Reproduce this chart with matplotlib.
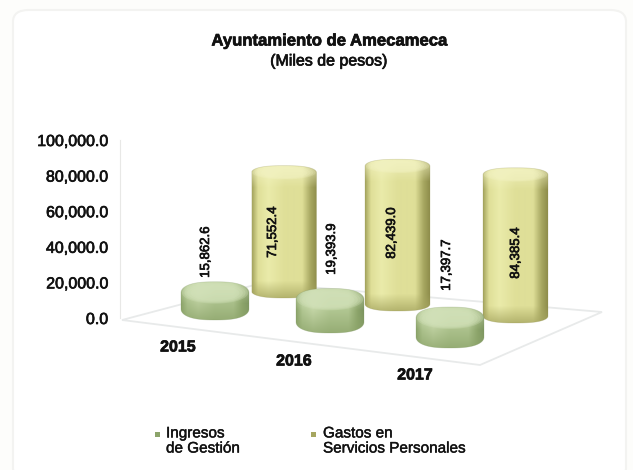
import numpy as np
import matplotlib
matplotlib.use('Agg')
import matplotlib.pyplot as plt
import matplotlib.patheffects as pe
from matplotlib.patches import PathPatch, FancyBboxPatch, Polygon, Rectangle
from matplotlib.path import Path

plt.rcParams['font.family'] = ['Liberation Sans', 'DejaVu Sans']

years = ['2015', '2016', '2017']
ingresos = [15862.6, 19393.9, 17397.7]
gastos = [71552.4, 82439.0, 84385.4]
y_ticks = [0, 20000, 40000, 60000, 80000, 100000]
title = 'Ayuntamiento de Amecameca'
subtitle = '(Miles de pesos)'
legend_names = ['Ingresos\nde Gestión', 'Gastos en\nServicios Personales']

W, H = 633, 470
Y0_PX, Y100_PX = 318, 140  # pixel rows of 0 and 100,000 on the axis
PER_PX = 100000 / (Y0_PX - Y100_PX)

def val(py):
    return (Y0_PX - py) * PER_PX

# layout of the fake 3d scene, in pixels
green_x = [215, 330, 450]
green_bottom = [320, 333, 348]
yellow_x = [284, 397.5, 515.5]
yellow_bottom = [298, 311, 323]
green_label_xy = [(206, 252), (332, 249), (447, 265)]
yellow_label_xy = [(273, 232), (392, 233), (516, 253)]
year_xy = [(178, 347), (294, 361), (415, 375)]

GREEN = {'edge': '#8ca46a', 'mid': '#b5ca96', 'light': '#c9daac', 'top': '#d3e2ba', 'dark': '#7a925e'}
YELLOW = {'edge': '#a6a660', 'mid': '#dfdf98', 'light': '#eaebaa', 'top': '#f5f5c6', 'dark': '#8f8e4c'}

heavy = [pe.withStroke(linewidth=0.5, foreground='#111111')]


def rgb(c):
    return np.array(matplotlib.colors.to_rgb(c))


def ellipse_path(cx, cy, rx, ry):
    t = np.linspace(0, 2 * np.pi, 80)
    return Path(np.column_stack([cx + rx * np.cos(t), cy + ry * np.sin(t)]))


def arc(cx, cy, rx, ry, t):
    # slightly squarish arc so the shoulders look rounded off
    c, s = np.cos(t), np.sin(t)
    return np.column_stack([cx + rx * np.sign(c) * np.abs(c) ** 0.75, cy + ry * np.sign(s) * np.abs(s) ** 0.95])


def cylinder(ax, cx, bottom_px, value, rx, ry_px, pal, extra=7, cap_alpha=0.25):
    ry = ry_px * PER_PX
    y_low = val(bottom_px)
    y_high = y_low + value + extra * PER_PX

    low = arc(cx, y_low + ry, rx, ry, np.linspace(np.pi, 2 * np.pi, 60))
    high = arc(cx, y_high - ry, rx, ry, np.linspace(0, np.pi, 60))
    outline = Path(np.vstack([low, high, low[:1]]))

    # sideways shading
    u = np.linspace(-1, 1, 90)
    stops = [-1, -0.82, -0.5, 0, 0.55, 0.82, 1]
    cols = [pal['edge'], pal['mid'], pal['light'], pal['mid'], pal['mid'], pal['edge'], pal['dark']]
    grad = np.stack([np.interp(u, stops, [rgb(c)[k] for c in cols]) for k in range(3)], axis=1)

    # up and down shading, counted in pixels from both ends
    height_px = (y_high - y_low) / PER_PX
    m = int(height_px) + 1
    img = np.repeat(grad[None, :, :], m, axis=0)
    from_bottom = np.arange(m)[:, None, None]
    from_top = (m - 1 - from_bottom)
    w_top = np.clip(1 - from_top / 22, 0, 1) * 0.7
    w_foot = np.clip(1 - from_bottom / (2.4 * ry_px), 0, 1) * 0.75
    img = img * (1 - w_top) + rgb(pal['top']) * w_top
    img = img * (1 - w_foot) + rgb(pal['edge']) * w_foot

    body = PathPatch(outline, transform=ax.transData, fc='none', ec='none')
    ax.add_patch(body)
    im = ax.imshow(img, extent=[cx - rx, cx + rx, y_low, y_high], origin='lower',
                   aspect='auto', interpolation='bilinear', zorder=bottom_px)
    im.set_clip_path(body)
    im.set_clip_box(ax.figure.bbox)
    body.set_clip_on(False)

    # soft top cap, a few stacked ellipses
    for f in [0.97, 0.9, 0.82, 0.72]:
        cap = ellipse_path(cx, y_high - ry * 1.02, rx * f, ry * f)
        ax.add_patch(PathPatch(cap, fc=pal['top'], ec='none', alpha=cap_alpha,
                               zorder=bottom_px + 0.1, clip_on=False))
    ax.add_patch(PathPatch(outline, fc='none', ec=pal['dark'], lw=0.5, alpha=0.3,
                           zorder=bottom_px + 0.2, clip_on=False))


fig = plt.figure(figsize=(W / 100, H / 100), dpi=100, facecolor='#fdfdfb')

# rounded frame of the chart area
fig.add_artist(FancyBboxPatch((13 / W, -0.02), 613 / W, 460 / H + 0.02,
                              boxstyle='round,pad=0,rounding_size=0.025', transform=fig.transFigure,
                              fc='#ffffff', ec='#f3f3f1', lw=1.5, zorder=-1))

ax = fig.add_axes([120 / W, (H - Y0_PX) / H, (620 - 120) / W, (Y0_PX - Y100_PX) / H])
ax.patch.set_alpha(0)
ax.set_autoscale_on(False)
ax.set_xlim(120, 620)
ax.set_ylim(0, 100000)
for s in ['top', 'right', 'bottom']:
    ax.spines[s].set_visible(False)
ax.spines['left'].set_color('#e8e8e6')
ax.set_xticks([])
ax.set_yticks(y_ticks)
ax.set_yticklabels([f'{v:,.1f}' for v in y_ticks], fontsize=11.5, color='#111111', path_effects=heavy)
ax.tick_params(axis='y', length=0, pad=8.5)

# floor of the scene
ax.add_patch(Polygon([(122, val(320)), (262, val(283)), (602, val(312)), (480, val(365))],
                     closed=True, fc='none', ec='#e8eaea', lw=1.3, zorder=1, clip_on=False))

for i in range(3):
    cylinder(ax, green_x[i], green_bottom[i], ingresos[i], 34, 11, GREEN, extra=10, cap_alpha=0.3)
    cylinder(ax, yellow_x[i], yellow_bottom[i], gastos[i], 32.5, 7, YELLOW, extra=5, cap_alpha=0.2)
    gx, gy = green_label_xy[i]
    ax.text(gx, val(gy), f'{ingresos[i]:,.1f}', rotation=90, ha='center', va='center',
            fontsize=9.5, color='#111111', zorder=500, clip_on=False, path_effects=heavy)
    yx, yy = yellow_label_xy[i]
    ax.text(yx, val(yy), f'{gastos[i]:,.1f}', rotation=90, ha='center', va='center',
            fontsize=9.5, color='#111111', zorder=500, clip_on=False, path_effects=heavy)
    tx, ty = year_xy[i]
    ax.text(tx, val(ty), years[i], ha='center', va='center', fontsize=11.5,
            fontweight='bold', color='#111111', zorder=500, clip_on=False, path_effects=heavy)

ax.set_xlim(120, 620)
ax.set_ylim(0, 100000)

fig.text(329 / W, 1 - 41 / H, title, ha='center', va='center', fontsize=12, fontweight='bold', color='#111111',
         path_effects=heavy)
fig.text(329 / W, 1 - 61 / H, subtitle, ha='center', va='center', fontsize=11.5, color='#111111', path_effects=heavy)

# legend, made by hand
for mx, tx, name, c in [(157, 166, legend_names[0], GREEN['edge']), (313, 323, legend_names[1], YELLOW['edge'])]:
    fig.add_artist(Rectangle(((mx - 2.5) / W, 1 - (435 + 2) / H), 5 / W, 5 / H, transform=fig.transFigure,
                             fc=c, ec='none'))
    fig.text(tx / W, 1 - 441 / H, name, ha='left', va='center', fontsize=11, linespacing=1.1, color='#111111',
             path_effects=[pe.withStroke(linewidth=0.3, foreground='#111111')])

fig.savefig('out.png', dpi=100, facecolor=fig.get_facecolor())
